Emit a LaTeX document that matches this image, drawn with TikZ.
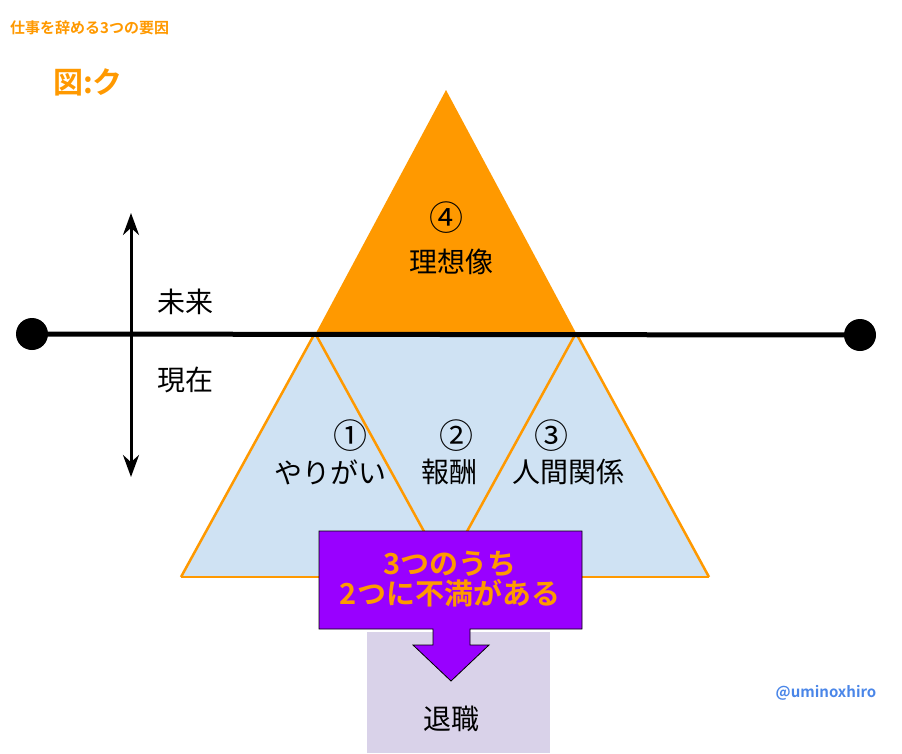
\documentclass[tikz,border=0pt]{standalone}
\usepackage{fontspec}
\setmainfont{Noto Sans CJK JP}[BoldFont={Noto Sans CJK JP Bold}]
\usetikzlibrary{arrows.meta}
\definecolor{org}{HTML}{FF9900}
\definecolor{lblue}{HTML}{CFE2F3}
\definecolor{lav}{HTML}{D9D2E9}
\definecolor{purp}{HTML}{9900FF}
\definecolor{tw}{HTML}{4A86E8}
\tikzset{big/.style={font=\fontsize{28}{30}\selectfont, inner sep=0pt},
 circ/.style={font=\fontsize{34}{36}\selectfont, inner sep=0pt},
 obig/.style={font=\bfseries\fontsize{29}{34}\selectfont, text=org, inner sep=0pt, align=center}}
\begin{document}
\begin{tikzpicture}[x=1pt,y=-1pt]
\useasboundingbox (0,0) rectangle (902,753);
\fill[lblue] (316,333) -- (576,333) -- (709,577) -- (181,577) -- cycle;
\draw[org, line width=2.5pt, line join=round] (181,577) -- (315,333) -- (449,577);
\draw[org, line width=2.5pt, line join=round] (442,577) -- (576,333) -- (709,577);
\draw[org, line width=2.5pt] (181,577) -- (709,577);
\fill[org] (446,90) -- (576,333) -- (316,333) -- cycle;
\coordinate (L) at (32,334); \coordinate (R) at (860,335);
\draw[line width=5pt] (L) -- (R);
\fill (L) circle (16); \fill (R) circle (16);
\coordinate (T) at (131,213); \coordinate (B) at (131,477);
\draw[line width=3pt, {Stealth[length=22pt,width=16pt]}-{Stealth[length=22pt,width=16pt]}] (T) -- (B);
\node[big] (f) at (185,302) {未来};
\node[big] (n) at (185,380) {現在};
\node[circ] (c4) at (446,218) {④};
\node[big] (t4) at (451,262) {理想像};
\node[circ] (c1) at (350,436) {①};
\node[big] (t1) at (330,472) {やりがい};
\node[circ] (c2) at (456,436) {②};
\node[big] (t2) at (449,472) {報酬};
\node[circ] (c3) at (551,436) {③};
\node[big] (t3) at (568,472) {人間関係};
\fill[lav] (367,632) rectangle (550,753);
\node[big] (q) at (451,719) {退職};
\draw[fill=purp, line width=0.8pt] (319,531) -- (582,531) -- (582,629) -- (470,629) -- (470,645) -- (489,645) -- (451,681) -- (413,645) -- (433,645) -- (433,629) -- (319,629) -- cycle;
\node[obig] (m) at (450,579) {3つのうち\\[-4pt]2つに不満がある};
\node[anchor=west, font=\bfseries\fontsize{15}{17}\selectfont, text=org, inner sep=0pt] (title) at (10,28) {仕事を辞める3つの要因};
\node[anchor=west, font=\bfseries\fontsize{30}{32}\selectfont, text=org, inner sep=0pt] (fig) at (53,82) {図:ク};
\node[font=\bfseries\fontsize{15}{17}\selectfont, text=tw, inner sep=0pt] (tw) at (826,693) {@uminoxhiro};
\end{tikzpicture}
\end{document}
